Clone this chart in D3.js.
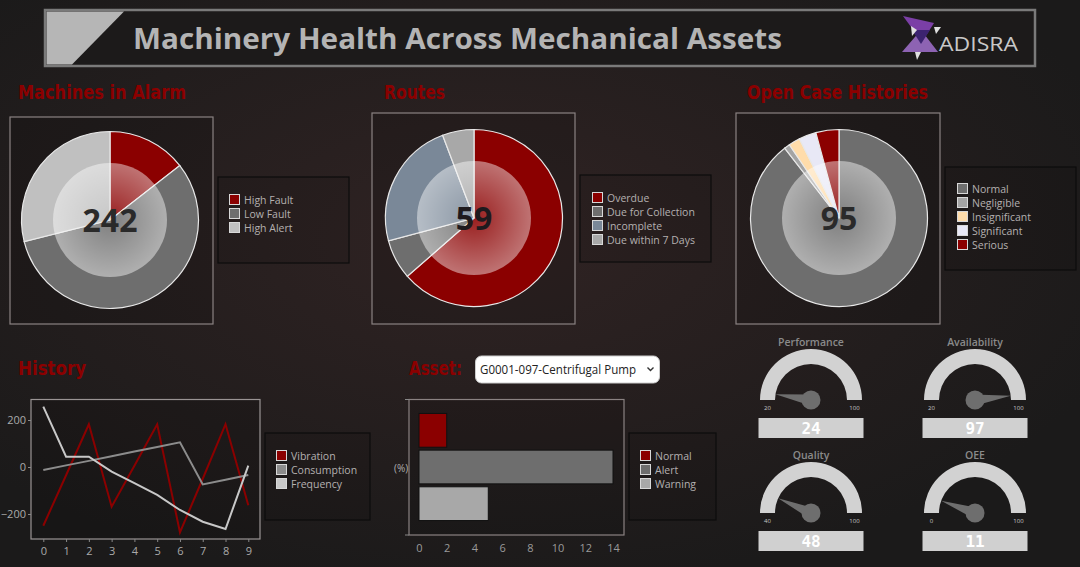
<!DOCTYPE html>
<html><head><meta charset="utf-8">
<script src="https://cdn.jsdelivr.net/npm/d3@7"></script>
<style>html,body{margin:0;padding:0;background:#1c1a1a;overflow:hidden}</style>
</head><body><svg id="c" width="1080" height="567"></svg>
<script>
// ---------- DATA ----------
const pageTitle = "Machinery Health Across Mechanical Assets";
const alarmCategories = ["High Fault", "Low Fault", "High Alert"];
const alarmValues = [35, 137, 70];
const alarmTotal = 242;
const routeCategories = ["Overdue", "Due for Collection", "Incomplete", "Due within 7 Days"];
const routeValues = [37.5, 4.3, 13.8, 3.4];
const routeTotal = 59;
const caseCategories = ["Normal", "Negligible", "Insignificant", "Significant", "Serious"];
const caseValues = [85, 1, 2, 3, 4];
const caseTotal = 95;
const historyX = [0, 1, 2, 3, 4, 5, 6, 7, 8, 9];
const historySeries = ["Vibration", "Consumption", "Frequency"];
const vibration = [-250, -35, 182, -169, 5, 182, -278, -50, 182, -163];
const consumption = [-13, 7, 26, 46, 66, 85, 105, -74, -54, -34];
const frequency = [257, 44, 44, -20, -69, -119, -183, -233, -264, 6];
const historyYTicks = [-200, 0, 200];
const assetName = "G0001-097-Centrifugal Pump";
const assetCategories = ["Normal", "Alert", "Warning"];
const assetValues = [2, 14, 5];
const assetXTicks = [0, 2, 4, 6, 8, 10, 12, 14];
const gaugeNames = ["Performance", "Availability", "Quality", "OEE"];
const gaugeValues = [24, 97, 48, 11];
const gaugeMins = [20, 20, 40, 0];
const gaugeMaxs = [100, 100, 100, 100];

// ---------- SETUP ----------
const svg = d3.select("#c");
const defs = svg.append("defs");
const bg = defs.append("radialGradient").attr("id", "bg").attr("cx", "45%").attr("cy", "42%").attr("r", "62%");
bg.append("stop").attr("offset", "0%").attr("stop-color", "#302323");
bg.append("stop").attr("offset", "100%").attr("stop-color", "#1b1a1a");
svg.append("rect").attr("width", 1080).attr("height", 567).attr("fill", "url(#bg)");

const glass = defs.append("radialGradient").attr("id", "glass");
glass.append("stop").attr("offset", "0%").attr("stop-color", "#fff").attr("stop-opacity", 0.12);
glass.append("stop").attr("offset", "100%").attr("stop-color", "#fff").attr("stop-opacity", 0.45);

const FONT = "'Open Sans', 'Noto Sans', sans-serif";
const COND = "'DejaVu Sans Condensed', 'Liberation Sans Narrow', sans-serif";

// ---------- HEADER ----------
svg.append("rect").attr("x", 45).attr("y", 10).attr("width", 990).attr("height", 56)
  .attr("fill", "#1c1a1a").attr("stroke", "#7a7a7a").attr("stroke-width", 2.5);
svg.append("polygon").attr("points", "46.5,11.5 124,11.5 72,64.5 46.5,64.5").attr("fill", "#b6b6b6");
svg.append("text").attr("x", 133).attr("y", 49).text(pageTitle)
  .attr("font-family", FONT).attr("font-weight", 700).attr("font-size", 29)
  .attr("fill", "#b4b4b4").attr("textLength", 649).attr("lengthAdjust", "spacingAndGlyphs");
// logo
const logo = svg.append("g");
logo.append("polygon").attr("points", "903,16 934,23 922,42").attr("fill", "#7b3fa6");
logo.append("polygon").attr("points", "902,52 938,52 921,30").attr("fill", "#9a6cc4").attr("opacity", 0.9);
logo.append("polygon").attr("points", "912,30 930,30 921,44").attr("fill", "#3c2370");
logo.append("polygon").attr("points", "911,26 917,30 912,36").attr("fill", "#e0e0e0");
logo.append("polygon").attr("points", "934,27 941,27 936,34").attr("fill", "#e0e0e0");
logo.append("polygon").attr("points", "915,52 921,52 917,60").attr("fill", "#e0e0e0");
svg.append("text").attr("x", 939).attr("y", 51).text("ADISRA")
  .attr("font-family", FONT).attr("font-size", 20).attr("fill", "#c8c8c8")
  .attr("textLength", 79).attr("lengthAdjust", "spacingAndGlyphs");

// ---------- SECTION TITLES ----------
function sectionTitle(txt, x, y, len) {
  svg.append("text").attr("x", x).attr("y", y).text(txt)
    .attr("font-family", COND).attr("font-weight", 700).attr("font-size", 19)
    .attr("fill", "#8b0000").attr("textLength", len).attr("lengthAdjust", "spacingAndGlyphs");
}
sectionTitle("Machines in Alarm", 18, 99, 168);
sectionTitle("Routes", 384, 99, 61);
sectionTitle("Open Case Histories", 747, 99, 181);
sectionTitle("History", 18, 375, 68);
sectionTitle("Asset:", 409, 375, 53);

// ---------- LEGEND ----------
function legend(x, y, w, h, names, colors, itemX, itemY) {
  svg.append("rect").attr("x", x).attr("y", y).attr("width", w).attr("height", h)
    .attr("fill", "rgba(0,0,0,0.08)").attr("stroke", "#0d0d0d").attr("stroke-width", 1.2);
  const g = svg.append("g");
  names.forEach((n, i) => {
    g.append("rect").attr("x", itemX + 0.5).attr("y", itemY + i * 14 + 0.5).attr("width", 10).attr("height", 10)
      .attr("fill", colors[i]).attr("stroke", "#d8d8d8").attr("stroke-width", 1);
    g.append("text").attr("x", itemX + 15).attr("y", itemY + i * 14 + 9.5).text(n)
      .attr("font-family", FONT).attr("font-size", 10.5).attr("fill", "#b4b0b0");
  });
}

// ---------- DONUTS ----------
function donut(cx, cy, box, values, colors, total, textColor) {
  svg.append("rect").attr("x", box[0]).attr("y", box[1]).attr("width", box[2]).attr("height", box[3])
    .attr("fill", "rgba(0,0,0,0.12)").attr("stroke", "#8a8282").attr("stroke-width", 1.2);
  const pie = d3.pie().sort(null).value(d => d)(values);
  const arc = d3.arc().innerRadius(0).outerRadius(88.5);
  const g = svg.append("g").attr("transform", `translate(${cx},${cy})`);
  g.selectAll("path").data(pie).join("path").attr("d", arc)
    .attr("fill", (d, i) => colors[i]).attr("stroke", "#e8e8e8").attr("stroke-width", 1.2);
  g.append("circle").attr("r", 57).attr("fill", "url(#glass)");
  g.append("text").attr("y", 12).attr("text-anchor", "middle").text(total)
    .attr("font-family", FONT).attr("font-weight", 700).attr("font-size", 32).attr("fill", textColor);
}
const alarmColors = ["#8b0000", "#6e6e6e", "#c0c0c0"];
donut(110, 220, [10, 117, 203, 207], alarmValues, alarmColors, alarmTotal, "#2a2a2a");
legend(218, 177, 131, 86, alarmCategories, alarmColors, 229, 194);

const routeColors = ["#8b0000", "#6e6e6e", "#7a8898", "#a8a8a8"];
donut(474, 218, [372, 113, 203, 211], routeValues, routeColors, routeTotal, "#1e1a1e");
legend(580, 175, 131, 87, routeCategories, routeColors, 592, 192);

const caseColors = ["#6e6e6e", "#a4a4a4", "#ffdcaa", "#e8e8f6", "#8b0000"];
donut(839, 218, [736, 113, 204, 211], caseValues, caseColors, caseTotal, "#2a2a2a");
legend(945, 167, 131, 103, caseCategories, caseColors, 957, 183);

// ---------- HISTORY LINE CHART ----------
const hx = d3.scaleLinear().domain([0, 9]).range([43.3, 248.3]);
const hy = d3.scaleLinear().domain([-200, 200]).range([514, 420]);
svg.append("rect").attr("x", 31).attr("y", 399.5).attr("width", 229).attr("height", 139.5)
  .attr("fill", "rgba(0,0,0,0.12)").attr("stroke", "#9a9494").attr("stroke-width", 1.2);
const hxAxis = svg.append("g").attr("transform", "translate(0,539)")
  .call(d3.axisBottom(hx).tickValues(historyX).tickSize(3).tickFormat(d3.format("d")));
hxAxis.select(".domain").remove();
hxAxis.selectAll("line").attr("stroke", "#888");
hxAxis.selectAll("text").attr("font-family", FONT).attr("font-size", 11).attr("fill", "#aaa").attr("dy", "0.95em");
const hyAxis = svg.append("g").attr("transform", "translate(31,0)")
  .call(d3.axisLeft(hy).tickValues(historyYTicks).tickSize(3).tickPadding(2));
hyAxis.select(".domain").remove();
hyAxis.selectAll("line").attr("stroke", "#888");
hyAxis.selectAll("text").attr("font-family", FONT).attr("font-size", 11).attr("fill", "#aaa");
const line = d3.line().x((d, i) => hx(historyX[i])).y(d => hy(d));
const historyColors = ["#8b0000", "#8c8c8c", "#c8c8c8"];
[vibration, consumption, frequency].forEach((s, i) => {
  svg.append("path").attr("d", line(s)).attr("fill", "none")
    .attr("stroke", historyColors[i]).attr("stroke-width", 2).attr("stroke-linejoin", "miter");
});
legend(265, 433, 105, 87, historySeries, historyColors, 276, 450);

// ---------- ASSET SELECT ----------
svg.append("rect").attr("x", 475.5).attr("y", 356).attr("width", 184).attr("height", 27).attr("rx", 6)
  .attr("fill", "#ffffff").attr("stroke", "#cccccc");
svg.append("text").attr("x", 480).attr("y", 374).text(assetName)
  .attr("font-family", FONT).attr("font-size", 12).attr("fill", "#222")
  .attr("textLength", 156).attr("lengthAdjust", "spacingAndGlyphs");
svg.append("path").attr("d", "M647.5,367.5 L650.5,370.5 L653.5,367.5").attr("fill", "none")
  .attr("stroke", "#333").attr("stroke-width", 1.4);

// ---------- ASSET BAR CHART ----------
const bx = d3.scaleLinear().domain([0, 14]).range([419, 613]);
const by = d3.scaleBand().domain(assetCategories).range([412, 522]).paddingInner(0.08).paddingOuter(0.04);
svg.append("rect").attr("x", 409).attr("y", 399.5).attr("width", 215).attr("height", 135.5)
  .attr("fill", "rgba(0,0,0,0.1)").attr("stroke", "#8a8282").attr("stroke-width", 1.2);
const assetColors = ["#8b0000", "#6e6e6e", "#a8a8a8"];
svg.selectAll(".bar").data(assetValues).join("rect").attr("class", "bar")
  .attr("x", bx(0)).attr("y", (d, i) => by(assetCategories[i]))
  .attr("width", d => bx(d) - bx(0)).attr("height", by.bandwidth())
  .attr("fill", (d, i) => assetColors[i]).attr("stroke", "#111").attr("stroke-width", 1);
const bxAxis = svg.append("g").attr("transform", "translate(0,535)")
  .call(d3.axisBottom(bx).tickValues(assetXTicks).tickSize(0).tickPadding(9));
bxAxis.select(".domain").remove();
bxAxis.selectAll("text").attr("font-family", FONT).attr("font-size", 11).attr("fill", "#9a9a9a");
svg.append("line").attr("x1", 405).attr("x2", 409).attr("y1", 399.5).attr("y2", 399.5).attr("stroke", "#888");
svg.append("line").attr("x1", 405).attr("x2", 409).attr("y1", 535).attr("y2", 535).attr("stroke", "#888");
svg.append("text").attr("x", 394).attr("y", 472).text("(%)")
  .attr("font-family", FONT).attr("font-size", 10).attr("fill", "#b0b0b0");
legend(629, 433, 87, 87, assetCategories, assetColors, 640, 450);

// ---------- GAUGES ----------
const gaugeCenters = [[811, 400], [975, 400], [811, 513], [975, 513]];
const gArc = d3.arc().innerRadius(36).outerRadius(51).startAngle(-Math.PI / 2).endAngle(Math.PI / 2);
gaugeNames.forEach((name, i) => {
  const [cx, cy] = gaugeCenters[i];
  const g = svg.append("g").attr("transform", `translate(${cx},${cy})`);
  g.append("text").attr("y", -54).attr("text-anchor", "middle").text(name)
    .attr("font-family", FONT).attr("font-weight", 600).attr("font-size", 10.5).attr("fill", "#8a8a8a");
  g.append("path").attr("d", gArc()).attr("fill", "#d2d2d2");
  const scale = d3.scaleLinear().domain([gaugeMins[i], gaugeMaxs[i]]).range([-Math.PI / 2, Math.PI / 2]);
  const a = scale(gaugeValues[i]);
  const tip = [36 * Math.sin(a), -36 * Math.cos(a)];
  const px = Math.cos(a) * 5.5, py = Math.sin(a) * 5.5;
  g.append("polygon").attr("points", `${tip[0]},${tip[1]} ${px},${py} ${-px},${-py}`).attr("fill", "#6e6e6e");
  g.append("circle").attr("cy", 0).attr("r", 9.5).attr("fill", "#6e6e6e");
  g.append("text").attr("x", -43.5).attr("y", 10).attr("text-anchor", "middle").text(gaugeMins[i])
    .attr("font-family", FONT).attr("font-size", 6).attr("fill", "#c8c8c8");
  g.append("text").attr("x", 43.5).attr("y", 10).attr("text-anchor", "middle").text(gaugeMaxs[i])
    .attr("font-family", FONT).attr("font-size", 6).attr("fill", "#c8c8c8");
  g.append("rect").attr("x", -52.5).attr("y", 18).attr("width", 105).attr("height", 20).attr("fill", "#d0d0d0");
  g.append("text").attr("y", 34).attr("text-anchor", "middle").text(gaugeValues[i])
    .attr("font-family", "'DejaVu Sans Mono', 'Liberation Mono', monospace").attr("font-weight", 700)
    .attr("font-size", 16).attr("fill", "#ffffff");
});
</script></body></html>
